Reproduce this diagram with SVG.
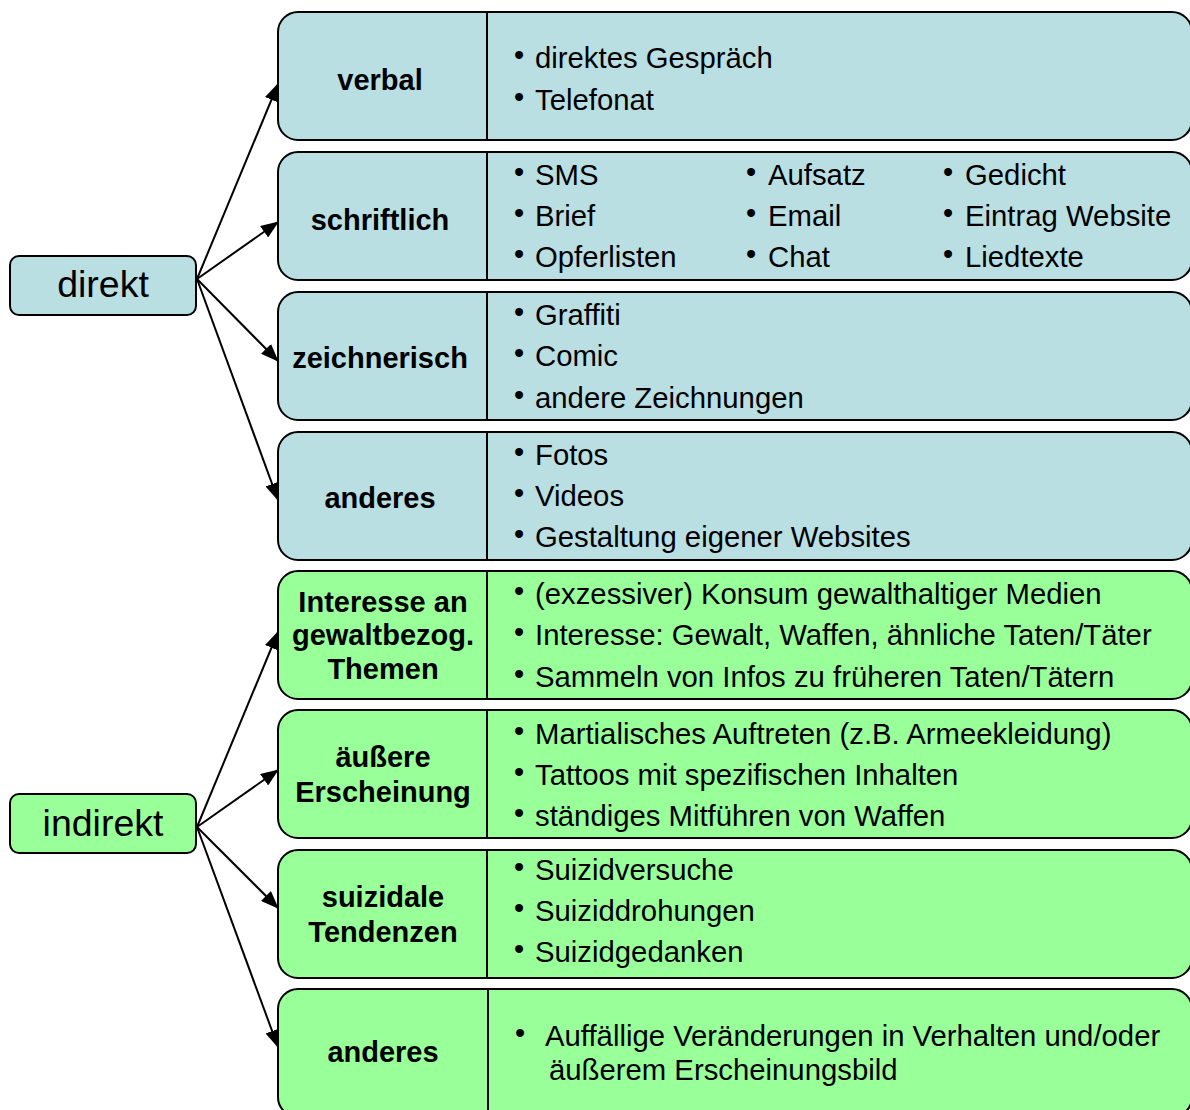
<svg xmlns="http://www.w3.org/2000/svg" width="1190" height="1110" viewBox="0 0 1190 1110">
<style>
.blue{fill:#B9DFE3;stroke:#000;stroke-width:2}
.green{fill:#99FF99;stroke:#000;stroke-width:2}
.div{stroke:#000;stroke-width:2}
.root{font-family:"Liberation Sans",Arial,sans-serif;font-size:37.5px;fill:#000;text-anchor:middle}
.lab{font-family:"Liberation Sans",Arial,sans-serif;font-size:29px;font-weight:bold;fill:#000;text-anchor:middle}
.txt{font-family:"Liberation Sans",Arial,sans-serif;font-size:29.3px;fill:#000}
.bul{font-family:"Liberation Sans",Arial,sans-serif;font-size:29px;fill:#000}
.con{stroke:#000;stroke-width:2;fill:none;marker-end:url(#ah)}
</style>
<defs>
<marker id="ah" markerUnits="userSpaceOnUse" markerWidth="18" markerHeight="14" viewBox="0 0 18 14" refX="17" refY="7" orient="auto">
<path d="M0,0 L18,7 L0,14 Z" fill="#000"/>
</marker>
</defs>
<rect width="1190" height="1110" fill="#fff"/>

<g id="direkt">
<rect class="blue" x="10" y="256" width="186" height="59" rx="9"/>
<text class="root" x="103" y="297">direkt</text>
</g>
<g id="indirekt">
<rect class="green" x="10" y="794" width="186" height="59" rx="9"/>
<text class="root" x="103" y="836">indirekt</text>
</g>

<g id="verbal">
<rect class="blue" x="278" y="12" width="914" height="128" rx="20"/>
<line class="div" x1="487" y1="12" x2="487" y2="140"/>
<text class="lab" x="380" y="90">verbal</text>
<text class="bul" x="514" y="65">•</text><text class="txt" x="535" y="68">direktes Gespräch</text>
<text class="bul" x="514" y="107">•</text><text class="txt" x="535" y="110">Telefonat</text>
</g>

<g id="schriftlich">
<rect class="blue" x="278" y="152" width="914" height="128" rx="20"/>
<line class="div" x1="487" y1="152" x2="487" y2="280"/>
<text class="lab" x="380" y="230">schriftlich</text>
<text class="bul" x="514" y="182">•</text><text class="txt" x="535" y="185">SMS</text>
<text class="bul" x="514" y="223">•</text><text class="txt" x="535" y="226">Brief</text>
<text class="bul" x="514" y="264">•</text><text class="txt" x="535" y="267">Opferlisten</text>
<text class="bul" x="746" y="182">•</text><text class="txt" x="768" y="185">Aufsatz</text>
<text class="bul" x="746" y="223">•</text><text class="txt" x="768" y="226">Email</text>
<text class="bul" x="746" y="264">•</text><text class="txt" x="768" y="267">Chat</text>
<text class="bul" x="943" y="182">•</text><text class="txt" x="965" y="185">Gedicht</text>
<text class="bul" x="943" y="223">•</text><text class="txt" x="965" y="226">Eintrag Website</text>
<text class="bul" x="943" y="264">•</text><text class="txt" x="965" y="267">Liedtexte</text>
</g>

<g id="zeichnerisch">
<rect class="blue" x="278" y="292" width="914" height="128" rx="20"/>
<line class="div" x1="487" y1="292" x2="487" y2="420"/>
<text class="lab" x="380" y="368">zeichnerisch</text>
<text class="bul" x="514" y="322">•</text><text class="txt" x="535" y="325">Graffiti</text>
<text class="bul" x="514" y="363">•</text><text class="txt" x="535" y="366">Comic</text>
<text class="bul" x="514" y="405">•</text><text class="txt" x="535" y="408">andere Zeichnungen</text>
</g>

<g id="anderes-direkt">
<rect class="blue" x="278" y="432" width="914" height="128" rx="20"/>
<line class="div" x1="487" y1="432" x2="487" y2="560"/>
<text class="lab" x="380" y="508">anderes</text>
<text class="bul" x="514" y="462">•</text><text class="txt" x="535" y="465">Fotos</text>
<text class="bul" x="514" y="503">•</text><text class="txt" x="535" y="506">Videos</text>
<text class="bul" x="514" y="544">•</text><text class="txt" x="535" y="547">Gestaltung eigener Websites</text>
</g>

<g id="interesse">
<rect class="green" x="278" y="571" width="914" height="128" rx="20"/>
<line class="div" x1="487" y1="571" x2="487" y2="699"/>
<text class="lab" x="383" y="612">Interesse an</text>
<text class="lab" x="383" y="645">gewaltbezog.</text>
<text class="lab" x="383" y="679">Themen</text>
<text class="bul" x="514" y="601">•</text><text class="txt" x="535" y="604">(exzessiver) Konsum gewalthaltiger Medien</text>
<text class="bul" x="514" y="642">•</text><text class="txt" x="535" y="645">Interesse: Gewalt, Waffen, ähnliche Taten/Täter</text>
<text class="bul" x="514" y="684">•</text><text class="txt" x="535" y="687">Sammeln von Infos zu früheren Taten/Tätern</text>
</g>

<g id="erscheinung">
<rect class="green" x="278" y="710" width="914" height="128" rx="20"/>
<line class="div" x1="487" y1="710" x2="487" y2="838"/>
<text class="lab" x="383" y="767">äußere</text>
<text class="lab" x="383" y="802">Erscheinung</text>
<text class="bul" x="514" y="741">•</text><text class="txt" x="535" y="744">Martialisches Auftreten (z.B. Armeekleidung)</text>
<text class="bul" x="514" y="782">•</text><text class="txt" x="535" y="785">Tattoos mit spezifischen Inhalten</text>
<text class="bul" x="514" y="823">•</text><text class="txt" x="535" y="826">ständiges Mitführen von Waffen</text>
</g>

<g id="suizidal">
<rect class="green" x="278" y="850" width="914" height="128" rx="20"/>
<line class="div" x1="487" y1="850" x2="487" y2="978"/>
<text class="lab" x="383" y="907">suizidale</text>
<text class="lab" x="383" y="942">Tendenzen</text>
<text class="bul" x="514" y="877">•</text><text class="txt" x="535" y="880">Suizidversuche</text>
<text class="bul" x="514" y="918">•</text><text class="txt" x="535" y="921">Suiziddrohungen</text>
<text class="bul" x="514" y="959">•</text><text class="txt" x="535" y="962">Suizidgedanken</text>
</g>

<g id="anderes-indirekt">
<rect class="green" x="278" y="989" width="914" height="128" rx="20"/>
<line class="div" x1="488" y1="989" x2="488" y2="1117"/>
<text class="lab" x="383" y="1062">anderes</text>
<text class="bul" x="515" y="1043">•</text><text class="txt" x="545" y="1046">Auffällige Veränderungen in Verhalten und/oder</text>
<text class="txt" x="549" y="1080">äußerem Erscheinungsbild</text>
</g>

<g id="connectors">
<line class="con" x1="197" y1="279" x2="278" y2="84"/>
<line class="con" x1="197" y1="279" x2="278" y2="222"/>
<line class="con" x1="197" y1="279" x2="278" y2="361"/>
<line class="con" x1="197" y1="279" x2="278" y2="500"/>
<line class="con" x1="197" y1="827" x2="278" y2="632"/>
<line class="con" x1="197" y1="827" x2="278" y2="770"/>
<line class="con" x1="197" y1="827" x2="278" y2="908"/>
<line class="con" x1="197" y1="827" x2="278" y2="1047"/>
</g>
</svg>
